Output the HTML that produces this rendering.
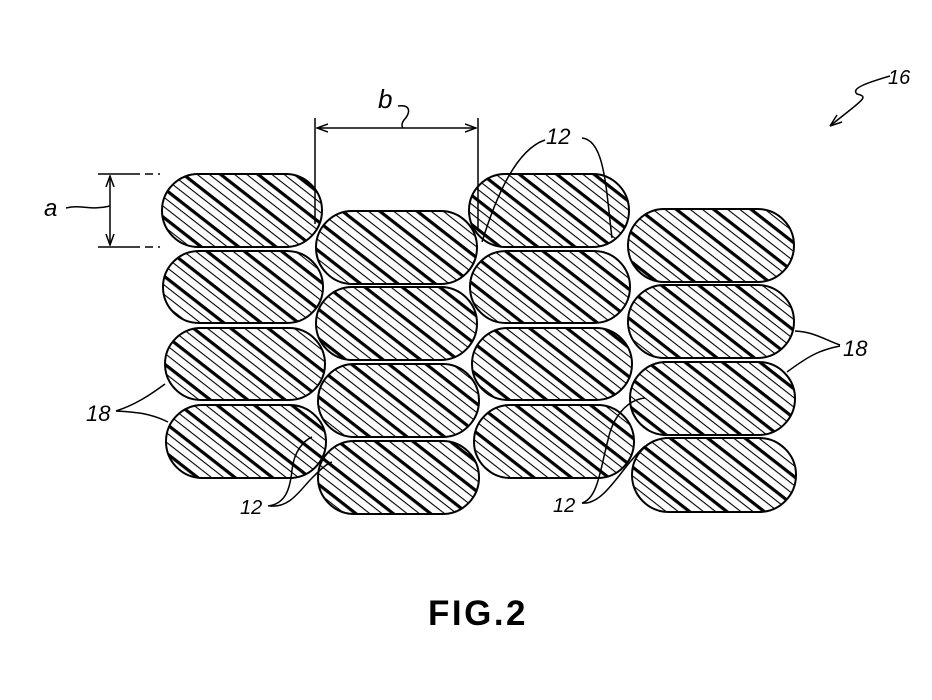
<!DOCTYPE html>
<html><head><meta charset="utf-8"><style>
html,body{margin:0;padding:0;background:#fff;}
svg{display:block;}
text{font-family:"Liberation Sans",sans-serif;font-style:italic;fill:#000;}
</style></head><body>
<svg width="932" height="700" viewBox="0 0 932 700" xmlns="http://www.w3.org/2000/svg">
<defs>
<pattern id="h" patternUnits="userSpaceOnUse" width="200" height="23" patternTransform="rotate(38)">
<rect x="0" y="0" width="200" height="3.2" fill="#000"/>
<rect x="0" y="8" width="200" height="1.1" fill="#000"/>
<rect x="0" y="15.5" width="200" height="1.1" fill="#000"/>
</pattern>
<marker id="ar" markerWidth="12" markerHeight="10" refX="11" refY="5" orient="auto" markerUnits="userSpaceOnUse">
<path d="M0,1 L11,5 L0,9" fill="none" stroke="#000" stroke-width="1.5"/>
</marker>
</defs>
<g fill="url(#h)" stroke="#000" stroke-width="2">
<rect x="162" y="174" width="160" height="73" rx="36.5"/>
<rect x="163" y="251" width="160" height="72" rx="36"/>
<rect x="165" y="328" width="160" height="72" rx="36"/>
<rect x="166" y="405" width="160" height="73" rx="36.5"/>
<rect x="316" y="211" width="161" height="73" rx="36.5"/>
<rect x="316" y="287" width="161" height="73" rx="36.5"/>
<rect x="318" y="364" width="161" height="73" rx="36.5"/>
<rect x="318" y="441" width="161" height="73" rx="36.5"/>
<rect x="469" y="174" width="160" height="73" rx="36.5"/>
<rect x="470" y="251" width="160" height="72" rx="36"/>
<rect x="472" y="328" width="160" height="72" rx="36"/>
<rect x="474" y="405" width="160" height="73" rx="36.5"/>
<rect x="628" y="209" width="166" height="73" rx="36.5"/>
<rect x="628" y="285" width="166" height="73" rx="36.5"/>
<rect x="630" y="362" width="165" height="73" rx="36.5"/>
<rect x="632" y="438" width="164" height="74" rx="37"/>
</g>
<g fill="none" stroke="#000" stroke-width="1.5">
<line x1="98" y1="174" x2="140" y2="174"/>
<line x1="98" y1="247" x2="140" y2="247"/>
<line x1="145" y1="174" x2="160" y2="174" stroke-dasharray="8,5"/>
<line x1="145" y1="247" x2="160" y2="247" stroke-dasharray="8,5"/>
<line x1="110" y1="200" x2="110" y2="176" marker-end="url(#ar)"/>
<line x1="110" y1="220" x2="110" y2="245" marker-end="url(#ar)"/>
<line x1="110" y1="200" x2="110" y2="220"/>
<path d="M66,208 C80,204 90,211 110,206"/>
<line x1="315" y1="118" x2="315" y2="224"/>
<line x1="478" y1="118" x2="478" y2="228"/>
<line x1="400" y1="128" x2="317" y2="128" marker-end="url(#ar)"/>
<line x1="400" y1="128" x2="476" y2="128" marker-end="url(#ar)"/>
<path d="M398,106 C412,104 410,114 404,120 C401,124 402,127 403,128"/>
<path d="M545,140 C515,150 495,200 482,242"/>
<path d="M582,138 C605,140 606,190 612,238"/>
<path d="M890,76 C870,82 850,88 857,94 C870,97 862,100 830,126" />
<path d="M830,126 L837,115 M830,126 L842,122"/>
<path d="M795,331 C815,332 825,340 840,345"/>
<path d="M787,372 C810,355 820,350 840,346"/>
<path d="M116,411 C135,405 150,395 165,384"/>
<path d="M116,411 C135,412 150,413 168,422"/>
<path d="M268,506 C285,504 290,490 292,470 C294,450 305,440 312,437"/>
<path d="M270,506 C290,508 300,490 312,478 C320,470 326,464 332,462"/>
<path d="M582,503 C598,498 600,470 608,440 C612,420 625,400 645,398"/>
<path d="M582,503 C600,505 615,480 630,462 C636,455 640,450 645,446"/>
</g>
<text x="44" y="216" font-size="24">a</text>
<text x="378" y="108" font-size="26">b</text>
<text x="546" y="144" font-size="22">12</text>
<text x="888" y="84" font-size="20">16</text>
<text x="843" y="356" font-size="22">18</text>
<text x="86" y="421" font-size="22">18</text>
<text x="240" y="514" font-size="20">12</text>
<text x="553" y="512" font-size="20">12</text>
<text x="428" y="625" font-size="35" font-weight="bold" style="font-style:normal;letter-spacing:2.5px">FIG.2</text>
</svg>
</body></html>
